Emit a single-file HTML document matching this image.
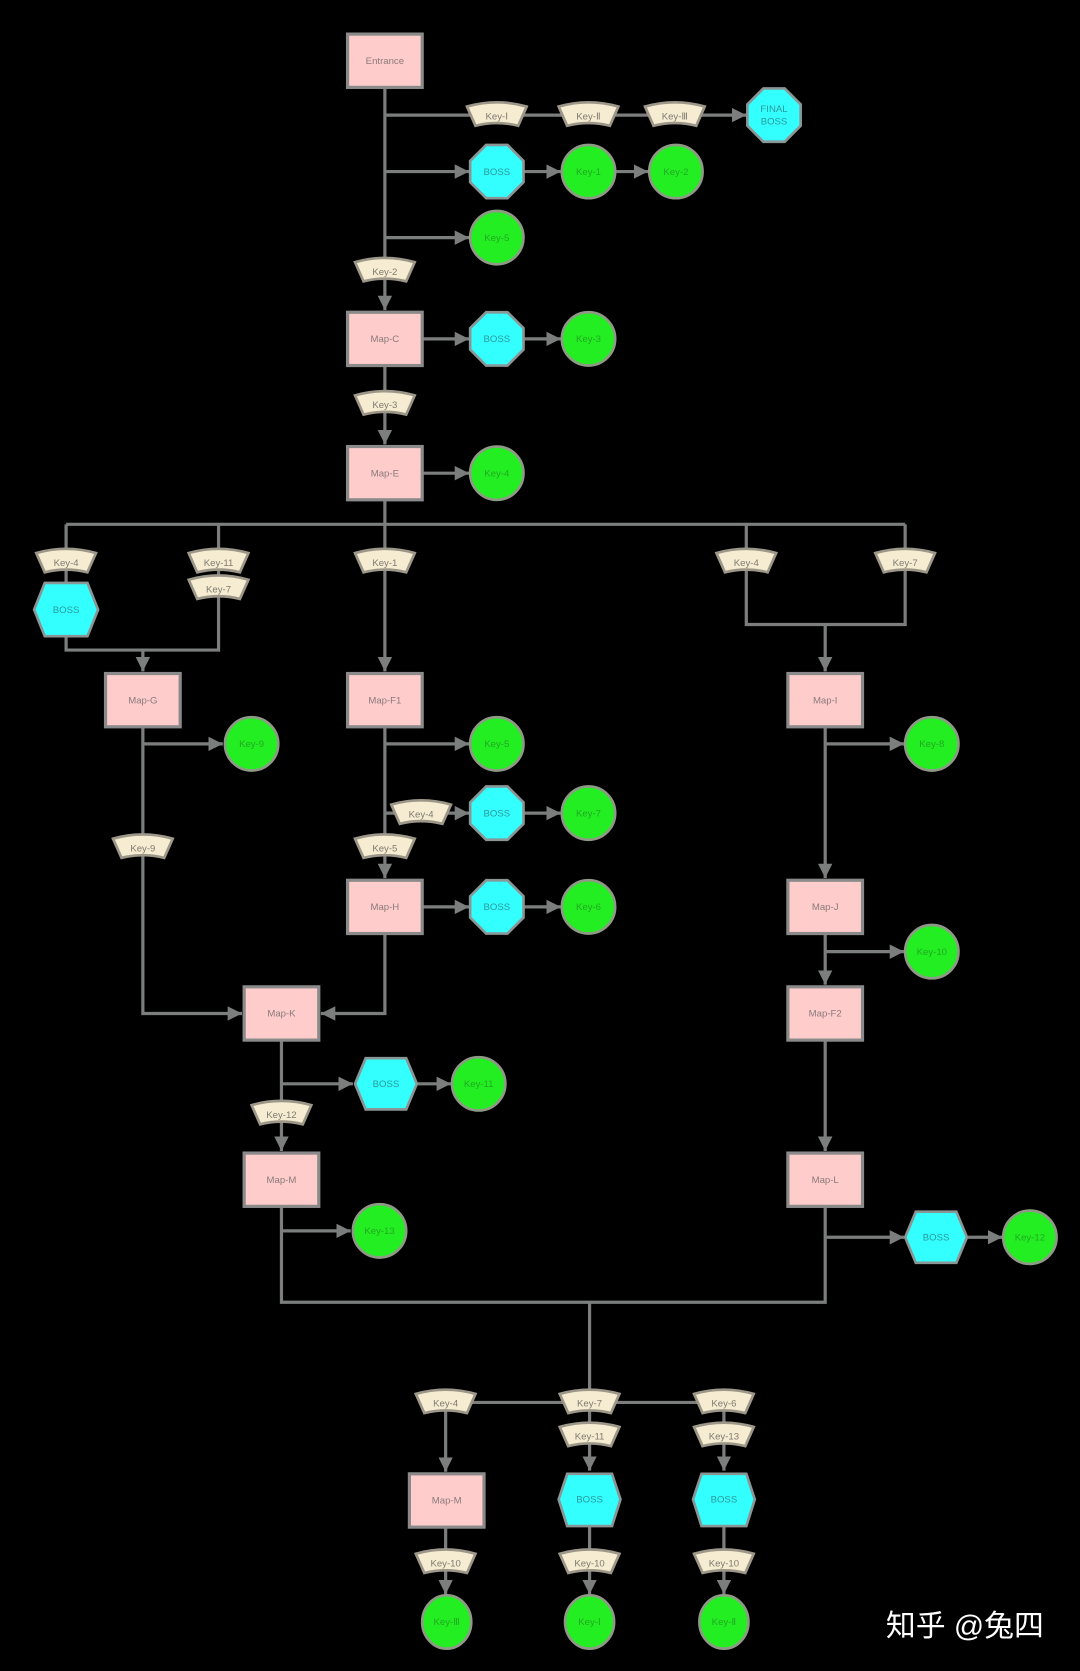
<!DOCTYPE html>
<html><head><meta charset="utf-8"><style>
html,body{margin:0;padding:0;background:#000;}
svg{display:block;}
text{font-family:"Liberation Sans",sans-serif;font-size:9px;text-anchor:middle;}
.r{fill:#ffcccc;stroke:#8a8a8a;stroke-width:3;}
.g{fill:#22ee22;stroke:#8f9a86;stroke-width:2.5;}
.c{fill:#33ffff;stroke:#8a9595;stroke-width:2.5;}
.k{fill:#f6ecd2;stroke:#9d978a;stroke-width:2.5;}
.l{stroke:#7c7e7e;stroke-width:3;fill:none;}
.tr{fill:#8a7a7a;} .tg{fill:#22aa22;} .tc{fill:#2a9a9a;} .tk{fill:#807a70;}
</style></head><body>
<svg width="1080" height="1671" viewBox="0 0 1013 1568" preserveAspectRatio="none" xmlns="http://www.w3.org/2000/svg">
<defs><marker id="a" viewBox="0 0 10 10" refX="10" refY="5" markerWidth="4.5" markerHeight="4.5" orient="auto" markerUnits="strokeWidth"><path d="M0 0L10 5L0 10Z" fill="#7c7e7e"/></marker></defs>
<rect width="1013" height="1568" fill="#000"/>
<g class="l">
<path d="M361 82V291" marker-end="url(#a)"/>
<path d="M361 108H700" marker-end="url(#a)"/>
<path d="M361 161H440" marker-end="url(#a)"/>
<path d="M491 161H526" marker-end="url(#a)"/>
<path d="M578 161H608" marker-end="url(#a)"/>
<path d="M361 223H440" marker-end="url(#a)"/>
<path d="M396 318H440" marker-end="url(#a)"/>
<path d="M491 318H526" marker-end="url(#a)"/>
<path d="M361 343V417" marker-end="url(#a)"/>
<path d="M396 444H440" marker-end="url(#a)"/>
<path d="M361 469V492"/>
<path d="M62 492H849"/>
<path d="M62 492V610H205V492"/>
<path d="M134 610V630" marker-end="url(#a)"/>
<path d="M361 492V630" marker-end="url(#a)"/>
<path d="M700 492V586H849V492"/>
<path d="M774 586V630" marker-end="url(#a)"/>
<path d="M134 682V951H227" marker-end="url(#a)"/>
<path d="M134 698H209" marker-end="url(#a)"/>
<path d="M361 682V824" marker-end="url(#a)"/>
<path d="M361 698H440" marker-end="url(#a)"/>
<path d="M361 763H440" marker-end="url(#a)"/>
<path d="M491 763H526" marker-end="url(#a)"/>
<path d="M396 851H440" marker-end="url(#a)"/>
<path d="M491 851H526" marker-end="url(#a)"/>
<path d="M361 876V951H301" marker-end="url(#a)"/>
<path d="M264 976V1080" marker-end="url(#a)"/>
<path d="M264 1017H331" marker-end="url(#a)"/>
<path d="M391 1017H423" marker-end="url(#a)"/>
<path d="M264 1132V1222H774V1132"/>
<path d="M264 1155H329" marker-end="url(#a)"/>
<path d="M774 682V824" marker-end="url(#a)"/>
<path d="M774 698H848" marker-end="url(#a)"/>
<path d="M774 876V924" marker-end="url(#a)"/>
<path d="M774 893H848" marker-end="url(#a)"/>
<path d="M774 976V1080" marker-end="url(#a)"/>
<path d="M774 1161H848" marker-end="url(#a)"/>
<path d="M908 1161H940" marker-end="url(#a)"/>
<path d="M553 1222V1316"/>
<path d="M418 1316H679"/>
<path d="M418 1316V1381" marker-end="url(#a)"/>
<path d="M553 1316V1380" marker-end="url(#a)"/>
<path d="M679 1316V1380" marker-end="url(#a)"/>
<path d="M418 1433V1496" marker-end="url(#a)"/>
<path d="M553 1432V1496" marker-end="url(#a)"/>
<path d="M679 1432V1496" marker-end="url(#a)"/>
</g>
<rect class="r" x="326" y="32" width="70" height="50"/><text class="tr" x="361" y="60">Entrance</text>
<rect class="r" x="326" y="293" width="70" height="50"/><text class="tr" x="361" y="321">Map-C</text>
<rect class="r" x="326" y="419" width="70" height="50"/><text class="tr" x="361" y="447">Map-E</text>
<rect class="r" x="99" y="632" width="70" height="50"/><text class="tr" x="134" y="660">Map-G</text>
<rect class="r" x="326" y="632" width="70" height="50"/><text class="tr" x="361" y="660">Map-F1</text>
<rect class="r" x="739" y="632" width="70" height="50"/><text class="tr" x="774" y="660">Map-I</text>
<rect class="r" x="326" y="826" width="70" height="50"/><text class="tr" x="361" y="854">Map-H</text>
<rect class="r" x="739" y="826" width="70" height="50"/><text class="tr" x="774" y="854">Map-J</text>
<rect class="r" x="229" y="926" width="70" height="50"/><text class="tr" x="264" y="954">Map-K</text>
<rect class="r" x="739" y="926" width="70" height="50"/><text class="tr" x="774" y="954">Map-F2</text>
<rect class="r" x="229" y="1082" width="70" height="50"/><text class="tr" x="264" y="1110">Map-M</text>
<rect class="r" x="739" y="1082" width="70" height="50"/><text class="tr" x="774" y="1110">Map-L</text>
<rect class="r" x="384" y="1383" width="70" height="50"/><text class="tr" x="419" y="1411">Map-M</text>
<polygon class="c" points="716,83 736,83 751,98 751,118 736,133 716,133 701,118 701,98"/><text class="tc" x="726" y="105">FINAL</text><text class="tc" x="726" y="117">BOSS</text>
<polygon class="c" points="456,136 476,136 491,151 491,171 476,186 456,186 441,171 441,151"/><text class="tc" x="466" y="164">BOSS</text>
<polygon class="c" points="456,293 476,293 491,308 491,328 476,343 456,343 441,328 441,308"/><text class="tc" x="466" y="321">BOSS</text>
<polygon class="c" points="456,738 476,738 491,753 491,773 476,788 456,788 441,773 441,753"/><text class="tc" x="466" y="766">BOSS</text>
<polygon class="c" points="456,826 476,826 491,841 491,861 476,876 456,876 441,861 441,841"/><text class="tc" x="466" y="854">BOSS</text>
<polygon class="c" points="32,572 42,547 82,547 92,572 82,597 42,597"/><text class="tc" x="62" y="575">BOSS</text>
<polygon class="c" points="333,1017 343,993 381,993 391,1017 381,1041 343,1041"/><text class="tc" x="362" y="1020">BOSS</text>
<polygon class="c" points="849,1161 859,1137 897,1137 907,1161 897,1185 859,1185"/><text class="tc" x="878" y="1164">BOSS</text>
<polygon class="c" points="524,1407 532,1383 574,1383 582,1407 574,1432 532,1432"/><text class="tc" x="553" y="1410">BOSS</text>
<polygon class="c" points="650,1407 658,1383 700,1383 708,1407 700,1432 658,1432"/><text class="tc" x="679" y="1410">BOSS</text>
<circle class="g" cx="552" cy="161" r="25"/><text class="tg" x="552" y="164">Key-1</text>
<circle class="g" cx="634" cy="161" r="25"/><text class="tg" x="634" y="164">Key-2</text>
<circle class="g" cx="466" cy="223" r="25"/><text class="tg" x="466" y="226">Key-5</text>
<circle class="g" cx="552" cy="318" r="25"/><text class="tg" x="552" y="321">Key-3</text>
<circle class="g" cx="466" cy="444" r="25"/><text class="tg" x="466" y="447">Key-4</text>
<circle class="g" cx="236" cy="698" r="25"/><text class="tg" x="236" y="701">Key-9</text>
<circle class="g" cx="466" cy="698" r="25"/><text class="tg" x="466" y="701">Key-5</text>
<circle class="g" cx="874" cy="698" r="25"/><text class="tg" x="874" y="701">Key-8</text>
<circle class="g" cx="552" cy="763" r="25"/><text class="tg" x="552" y="766">Key-7</text>
<circle class="g" cx="552" cy="851" r="25"/><text class="tg" x="552" y="854">Key-6</text>
<circle class="g" cx="874" cy="893" r="25"/><text class="tg" x="874" y="896">Key-10</text>
<circle class="g" cx="449" cy="1017" r="25"/><text class="tg" x="449" y="1020">Key-11</text>
<circle class="g" cx="356" cy="1155" r="25"/><text class="tg" x="356" y="1158">Key-13</text>
<circle class="g" cx="966" cy="1161" r="25"/><text class="tg" x="966" y="1164">Key-12</text>
<ellipse class="g" cx="419" cy="1522" rx="23" ry="25"/><text class="tg" x="419" y="1525">Key-Ⅲ</text>
<ellipse class="g" cx="553" cy="1522" rx="23" ry="25"/><text class="tg" x="553" y="1525">Key-Ⅰ</text>
<ellipse class="g" cx="679" cy="1522" rx="23" ry="25"/><text class="tg" x="679" y="1525">Key-Ⅱ</text>
<g>
<path class="k" d="M438 100Q466 92 494 100L486 118Q466 113 446 118Z"/><text class="tk" x="466" y="112">Key-Ⅰ</text>
<path class="k" d="M524 100Q552 92 580 100L572 118Q552 113 532 118Z"/><text class="tk" x="552" y="112">Key-Ⅱ</text>
<path class="k" d="M605 100Q633 92 661 100L653 118Q633 113 613 118Z"/><text class="tk" x="633" y="112">Key-Ⅲ</text>
<path class="k" d="M333 246Q361 238 389 246L381 264Q361 259 341 264Z"/><text class="tk" x="361" y="258">Key-2</text>
<path class="k" d="M333 371Q361 363 389 371L381 389Q361 384 341 389Z"/><text class="tk" x="361" y="383">Key-3</text>
<path class="k" d="M34 519Q62 511 90 519L82 537Q62 532 42 537Z"/><text class="tk" x="62" y="531">Key-4</text>
<path class="k" d="M177 519Q205 511 233 519L225 537Q205 532 185 537Z"/><text class="tk" x="205" y="531">Key-11</text>
<path class="k" d="M177 544Q205 536 233 544L225 562Q205 557 185 562Z"/><text class="tk" x="205" y="556">Key-7</text>
<path class="k" d="M333 519Q361 511 389 519L381 537Q361 532 341 537Z"/><text class="tk" x="361" y="531">Key-1</text>
<path class="k" d="M672 519Q700 511 728 519L720 537Q700 532 680 537Z"/><text class="tk" x="700" y="531">Key-4</text>
<path class="k" d="M821 519Q849 511 877 519L869 537Q849 532 829 537Z"/><text class="tk" x="849" y="531">Key-7</text>
<path class="k" d="M367 755Q395 747 423 755L415 773Q395 768 375 773Z"/><text class="tk" x="395" y="767">Key-4</text>
<path class="k" d="M106 787Q134 779 162 787L154 805Q134 800 114 805Z"/><text class="tk" x="134" y="799">Key-9</text>
<path class="k" d="M333 787Q361 779 389 787L381 805Q361 800 341 805Z"/><text class="tk" x="361" y="799">Key-5</text>
<path class="k" d="M236 1037Q264 1029 292 1037L284 1055Q264 1050 244 1055Z"/><text class="tk" x="264" y="1049">Key-12</text>
<path class="k" d="M390 1308Q418 1300 446 1308L438 1326Q418 1321 398 1326Z"/><text class="tk" x="418" y="1320">Key-4</text>
<path class="k" d="M525 1308Q553 1300 581 1308L573 1326Q553 1321 533 1326Z"/><text class="tk" x="553" y="1320">Key-7</text>
<path class="k" d="M651 1308Q679 1300 707 1308L699 1326Q679 1321 659 1326Z"/><text class="tk" x="679" y="1320">Key-6</text>
<path class="k" d="M525 1339Q553 1331 581 1339L573 1357Q553 1352 533 1357Z"/><text class="tk" x="553" y="1351">Key-11</text>
<path class="k" d="M651 1339Q679 1331 707 1339L699 1357Q679 1352 659 1357Z"/><text class="tk" x="679" y="1351">Key-13</text>
<path class="k" d="M390 1458Q418 1450 446 1458L438 1476Q418 1471 398 1476Z"/><text class="tk" x="418" y="1470">Key-10</text>
<path class="k" d="M525 1458Q553 1450 581 1458L573 1476Q553 1471 533 1476Z"/><text class="tk" x="553" y="1470">Key-10</text>
<path class="k" d="M651 1458Q679 1450 707 1458L699 1476Q679 1471 659 1476Z"/><text class="tk" x="679" y="1470">Key-10</text>
</g>
<text x="905" y="1535" style="font-family:'Liberation Sans','Noto Sans CJK SC',sans-serif;font-size:28px;fill:#fff">知乎 @兔四</text>
</svg>
</body></html>
